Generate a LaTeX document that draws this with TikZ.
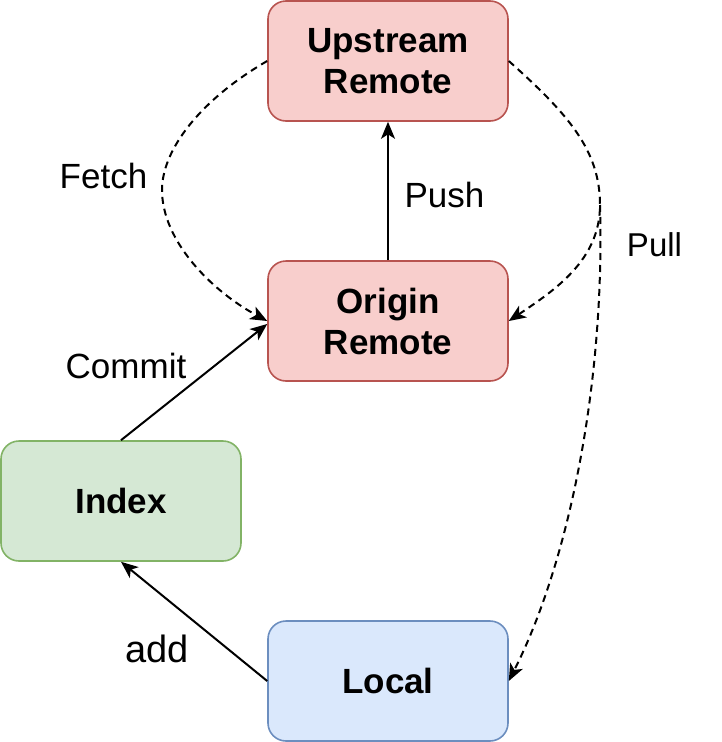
\documentclass[tikz,border=0pt]{standalone}
\usepackage{fontspec}
\setmainfont{Liberation Sans}
\usetikzlibrary{arrows.meta}
\definecolor{redfill}{HTML}{F8CECC}
\definecolor{redline}{HTML}{B85450}
\definecolor{greenfill}{HTML}{D5E8D4}
\definecolor{greenline}{HTML}{82B366}
\definecolor{bluefill}{HTML}{DAE8FC}
\definecolor{blueline}{HTML}{6C8EBF}
\tikzset{
  box/.style={rectangle, rounded corners=18pt, minimum width=240pt, minimum height=120pt,
    inner sep=0pt, line width=1.6pt, align=center,
    font=\fontsize{35}{41}\selectfont\bfseries},
  redbox/.style={box, fill=redfill, draw=redline},
  greenbox/.style={box, fill=greenfill, draw=greenline},
  bluebox/.style={box, fill=bluefill, draw=blueline},
  arr/.style={line width=2pt, -{Stealth[length=17pt, width=14pt, inset=4.5pt]}},
  darr/.style={arr, dash pattern=on 7pt off 5pt},
  lbl/.style={font=\fontsize{35}{41}\selectfont, inner sep=0pt}
}
\begin{document}
\begin{tikzpicture}[x=1pt, y=-1pt]
\useasboundingbox (0,0) rectangle (722,742);
\node[redbox] (upstream) at (388,61) {Upstream\\Remote};
\node[redbox] (origin) at (388,321) {Origin\\Remote};
\node[greenbox] (index) at (121,501) {Index};
\node[bluebox] (local) at (388,681) {Local};
\coordinate (pb) at (600,205);

\draw[arr] (origin.north) -- (upstream.south);
\draw[arr] (index.north) -- ([yshift=-3pt]origin.west);
\draw[arr] (local.west) -- (index.south);
\draw[darr] (upstream.west) .. controls (200,100) and (162,150) .. (162,190)
  .. controls (162,240) and (210,290) .. (origin.west);
\draw[darr] (upstream.east) .. controls (568,114) and (600,150) .. (pb)
  .. controls (600,260) and (555,290) .. (origin.east);
\draw[darr] (pb) .. controls (605,380) and (570,560) .. (local.east);

\node[lbl] (fetch) at (103.5,175.5) {Fetch};
\node[lbl] (push) at (444.5,194.5) {Push};
\node[lbl, font=\fontsize{33}{39}\selectfont] (pull) at (654.5,245) {Pull};
\node[lbl] (commit) at (126,366) {Commit};
\node[lbl, font=\fontsize{38}{44}\selectfont] (add) at (157,649) {add};
\end{tikzpicture}
\end{document}
